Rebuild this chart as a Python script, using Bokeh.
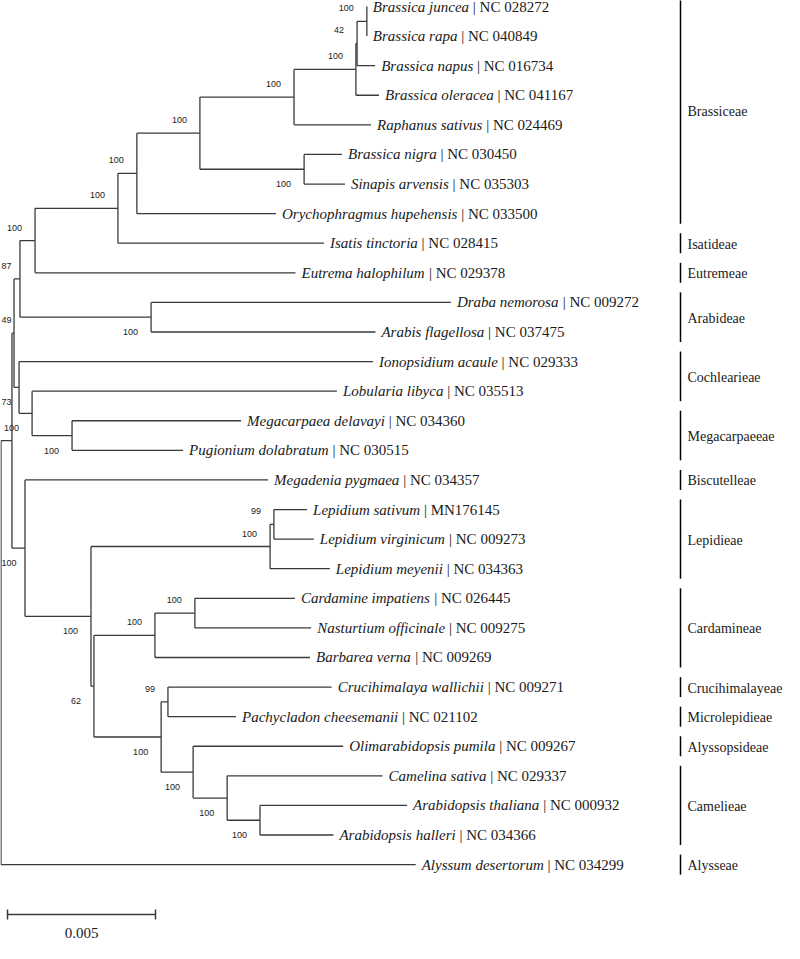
from bokeh.plotting import figure
from bokeh.models import ColumnDataSource, Range1d
from bokeh.core.properties import value
from bokeh.embed import file_html
from bokeh.resources import INLINE

# ---------------- data ----------------
leaf_names = [
    "Brassica juncea", "Brassica rapa", "Brassica napus", "Brassica oleracea",
    "Raphanus sativus", "Brassica nigra", "Sinapis arvensis",
    "Orychophragmus hupehensis", "Isatis tinctoria", "Eutrema halophilum",
    "Draba nemorosa", "Arabis flagellosa", "Ionopsidium acaule",
    "Lobularia libyca", "Megacarpaea delavayi", "Pugionium dolabratum",
    "Megadenia pygmaea", "Lepidium sativum", "Lepidium virginicum",
    "Lepidium meyenii", "Cardamine impatiens", "Nasturtium officinale",
    "Barbarea verna", "Crucihimalaya wallichii", "Pachycladon cheesemanii",
    "Olimarabidopsis pumila", "Camelina sativa", "Arabidopsis thaliana",
    "Arabidopsis halleri", "Alyssum desertorum",
]
leaf_accessions = [
    "NC 028272", "NC 040849", "NC 016734", "NC 041167", "NC 024469",
    "NC 030450", "NC 035303", "NC 033500", "NC 028415", "NC 029378",
    "NC 009272", "NC 037475", "NC 029333", "NC 035513", "NC 034360",
    "NC 030515", "NC 034357", "MN176145", "NC 009273", "NC 034363",
    "NC 026445", "NC 009275", "NC 009269", "NC 009271", "NC 021102",
    "NC 009267", "NC 029337", "NC 000932", "NC 034366", "NC 034299",
]
# distance of each tip from the root (substitutions per site)
leaf_depths = [
    0.01236, 0.01236, 0.01264, 0.01277, 0.01250, 0.01152, 0.01162,
    0.00929, 0.01091, 0.00995, 0.01520, 0.01265, 0.01257, 0.01135,
    0.00811, 0.00615, 0.00902, 0.01034, 0.01057, 0.01111, 0.00993,
    0.01048, 0.01044, 0.01117, 0.00794, 0.01156, 0.01289, 0.01372,
    0.01123, 0.01401,
]

# internal nodes (children listed before parents); ints are leaf indices
node_ids = ["A", "B", "C", "D", "F", "E", "G", "H", "I", "K", "J", "O", "N",
            "M", "P", "LA", "LB", "W", "CA", "X", "AA", "Z", "Y", "V", "U",
            "T", "R", "Q", "ROOT"]
node_child1 = [0, "A", "B", "C", 5, "D", "E", "G", "H", 10, "I", 14, 13,
               12, "J", 17, "LA", 20, "W", 23, 27, 26, 25, "X", "CA",
               "LB", 16, "P", "Q"]
node_child2 = [1, 2, 3, 4, 6, "F", 7, 8, 9, 11, "K", 15, "O",
               "N", "M", 18, 19, 21, 22, 24, 28, "AA", "Z", "Y", "V",
               "U", "T", "R", 29]
node_depths = [0.01236, 0.01203, 0.01199, 0.00990, 0.01024, 0.00672,
               0.00459, 0.00395, 0.00115, 0.00507, 0.00064, 0.00240,
               0.00105, 0.00061, 0.00044, 0.00922, 0.00909, 0.00655,
               0.00520, 0.00564, 0.00875, 0.00764, 0.00649, 0.00541,
               0.00314, 0.00304, 0.00081, 0.00037, 0.0]
node_support = [100, 42, 100, 100, 100, 100, 100, 100, 100, 100, 87, 100,
                100, 73, 49, 99, 100, 100, 100, 99, 100, 100, 100, 100, 62,
                100, 100, None, None]

clade_names = ["Brassiceae", "Isatideae", "Eutremeae", "Arabideae",
               "Cochlearieae", "Megacarpaeeae", "Biscutelleae", "Lepidieae",
               "Cardamineae", "Crucihimalayeae", "Microlepidieae",
               "Alyssopsideae", "Camelieae", "Alysseae"]
clade_first = [0, 8, 9, 10, 12, 14, 16, 17, 20, 23, 24, 25, 26, 29]
clade_last = [7, 8, 9, 11, 13, 15, 16, 19, 22, 23, 24, 25, 28, 29]

scale_length = 0.005
scale_label = "0.005"

# ---------------- layout ----------------
W, H = 784, 943
PX = 29600.0          # pixels per unit of branch length
X0 = 0.5              # plot px of the root
ROW = 29.59           # pixels between tips
Y0 = 6.0              # plot px of the first tip
FS = 15               # tip label font size px
CS = 14               # clade label font size px
BS = 9                # bootstrap font size px
SERIF = value("Liberation Serif")


def xd(px):
    return (px - X0) / PX


def yd(px):
    return (px - Y0) / ROW


# Times (Liberation Serif) italic advance widths /1000 em
IT = dict(zip("abcdefghijklmnopqrstuvwxyz",
              [500, 500, 444, 500, 444, 278, 500, 500, 278, 278, 444, 278, 722,
               500, 500, 500, 500, 389, 389, 278, 500, 444, 667, 444, 444, 389]))
IT.update(dict(zip("ABCDEFGHIJKLMNOPQRSTUVWXYZ",
                   [611, 611, 667, 722, 611, 611, 722, 722, 333, 444, 667, 556,
                    833, 667, 722, 611, 722, 611, 500, 556, 722, 611, 833, 611,
                    556, 556])))
IT[" "] = 250


def italic_width(s):
    return sum(IT.get(c, 500) for c in s) * FS / 1000.0


p = figure(width=W, height=H, output_backend="svg", toolbar_location=None,
           x_range=Range1d(xd(0), xd(W)), y_range=Range1d(yd(H), yd(0)),
           x_axis_type=None, y_axis_type=None, min_border=0,
           background_fill_color="white", border_fill_color="white")
p.grid.visible = False
p.outline_line_color = None

# tree geometry
depth = {i: d for i, d in enumerate(leaf_depths)}
ypos = {i: float(i) for i in range(len(leaf_names))}
parent_of = {}
for nid, c1, c2, d in zip(node_ids, node_child1, node_child2, node_depths):
    depth[nid] = d
    ypos[nid] = (ypos[c1] + ypos[c2]) / 2.0
    parent_of[c1] = (nid, "upper")
    parent_of[c2] = (nid, "lower")

x0s, y0s, x1s, y1s = [], [], [], []
for nid, c1, c2 in zip(node_ids, node_child1, node_child2):
    x0s.append(depth[nid]); x1s.append(depth[nid])
    y0s.append(ypos[c1]); y1s.append(ypos[c2])
    for c in (c1, c2):
        x0s.append(depth[nid]); x1s.append(depth[c])
        y0s.append(ypos[c]); y1s.append(ypos[c])

p.segment(x0=x0s, y0=y0s, x1=x1s, y1=y1s, line_color="#3a3a3a",
          line_width=1.3)

# tip labels
GAP = 6.0
name_x = [d + GAP / PX for d in leaf_depths]
acc_x = [d + (GAP + italic_width(n) + 250 * FS / 1000.0) / PX
         for d, n in zip(leaf_depths, leaf_names)]
acc_text = ["| " + a for a in leaf_accessions]
ys = list(range(len(leaf_names)))
p.text(x=name_x, y=ys, text=leaf_names, text_font=SERIF,
       text_font_style="italic", text_font_size=f"{FS}px",
       text_baseline="middle", text_align="left", text_color="#1a1a1a")
p.text(x=acc_x, y=ys, text=acc_text, text_font=SERIF,
       text_font_size=f"{FS}px", text_baseline="middle", text_align="left",
       text_color="#1a1a1a")

# bootstrap values
bx, by, bt = [], [], []
for nid, s in zip(node_ids, node_support):
    if s is None:
        continue
    txt = str(s)
    wpx = len(txt) * 0.556 * BS
    node_px = X0 + depth[nid] * PX
    right_px = max(node_px - 13.0, 1.0 + wpx)
    side = parent_of[nid][1]
    dy = -13.0 if side == "upper" else 15.0
    bx.append(xd(right_px))
    by.append(ypos[nid] + dy / ROW)
    bt.append(txt)
p.text(x=bx, y=by, text=bt, text_font=value("Liberation Sans"),
       text_font_size=f"{BS}px", text_baseline="middle", text_align="right",
       text_color="#222222")

# clade bars
BAR_PX = 680.0
bar_x = xd(BAR_PX)
p.segment(x0=[bar_x] * len(clade_names), x1=[bar_x] * len(clade_names),
          y0=[f - 10.0 / ROW for f in clade_first],
          y1=[l + 10.0 / ROW for l in clade_last],
          line_color="black", line_width=1.5)
p.text(x=[xd(BAR_PX + 7.0)] * len(clade_names),
       y=[(f + l) / 2.0 + 1.0 / ROW for f, l in zip(clade_first, clade_last)],
       text=clade_names, text_font=SERIF,
       text_font_size=f"{CS}px", text_baseline="middle", text_align="left",
       text_color="#1a1a1a")

# scale bar
sb_x0 = xd(7.0)
sb_y = yd(914.0)
p.segment(x0=[sb_x0, sb_x0, sb_x0 + scale_length],
          y0=[sb_y, sb_y - 5.0 / ROW, sb_y - 5.0 / ROW],
          x1=[sb_x0 + scale_length, sb_x0, sb_x0 + scale_length],
          y1=[sb_y, sb_y + 5.0 / ROW, sb_y + 5.0 / ROW],
          line_color="#3a3a3a", line_width=1.5)
p.text(x=[sb_x0 + scale_length / 2.0], y=[yd(932.0)], text=[scale_label],
       text_font=SERIF, text_font_size=f"{FS}px",
       text_baseline="middle", text_align="center", text_color="#1a1a1a")

open("out.html", "w").write(file_html(p, INLINE))
